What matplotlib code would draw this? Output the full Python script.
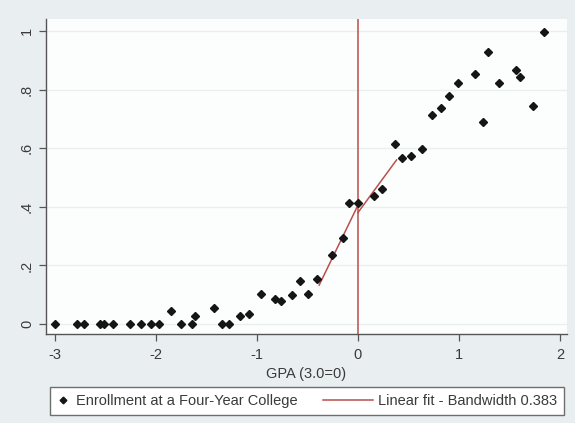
import numpy as np
import matplotlib
matplotlib.use("Agg")
import matplotlib.pyplot as plt
from matplotlib.lines import Line2D
from matplotlib.legend_handler import HandlerLine2D

# binned means
gpa = [-3.0, -2.78, -2.71, -2.55, -2.51, -2.42, -2.26, -2.15, -2.05, -1.97,
       -1.85, -1.75, -1.64, -1.61, -1.42, -1.34, -1.28, -1.17, -1.08, -0.96,
       -0.82, -0.76, -0.65, -0.57, -0.49, -0.40, -0.26, -0.15, -0.09, 0.0,
       0.155, 0.24, 0.37, 0.44, 0.53, 0.63, 0.73, 0.82, 0.905, 0.99,
       1.16, 1.24, 1.29, 1.40, 1.57, 1.60, 1.73, 1.84]
enroll = [0, 0, 0, 0, 0, 0, 0, 0, 0, 0,
          0.046, 0, 0, 0.026, 0.055, 0, 0, 0.028, 0.034, 0.101,
          0.085, 0.08, 0.10, 0.146, 0.104, 0.153, 0.234, 0.292, 0.413, 0.413,
          0.438, 0.462, 0.613, 0.568, 0.572, 0.596, 0.713, 0.736, 0.777, 0.823,
          0.853, 0.69, 0.927, 0.823, 0.868, 0.843, 0.743, 0.998]

# local linear fits on each side of the cutoff
fit_left_x = [-0.383, 0.0]
fit_left_y = [0.133, 0.405]
fit_right_x = [0.0, 0.383]
fit_right_y = [0.38, 0.56]

xticks = [-3, -2, -1, 0, 1, 2]
yticks = [0, 0.2, 0.4, 0.6, 0.8, 1.0]
ytick_labels = ["0", ".2", ".4", ".6", ".8", "1"]

RED = "#b9504b"
BG = "#e9eff1"
INK = "#3a3a3a"

plt.rcParams["font.family"] = ["Liberation Sans", "DejaVu Sans"]
plt.rcParams["axes.unicode_minus"] = False


class LongLine(HandlerLine2D):
    # line handle that reaches back into the column gap
    def get_xdata(self, legend, xdescent, ydescent, width, height, fontsize):
        xd = np.array([-xdescent + width - 36, -xdescent + width])
        return xd, xd


fig = plt.figure(figsize=(5.75, 4.23), dpi=100, facecolor=BG)
ax = fig.add_axes([45.7 / 575, 1 - 334.3 / 423, (567 - 45.7) / 575, (334.3 - 19.3) / 423])
ax.set_facecolor("#fcfdfd")

for yv in yticks:
    ax.axhline(yv, color="#e9eef0", lw=0.9, zorder=0)

ax.axvline(0, color=RED, lw=1.1, zorder=2)
ax.plot(fit_left_x, fit_left_y, color=RED, lw=1.1, zorder=2)
ax.plot(fit_right_x, fit_right_y, color=RED, lw=1.1, zorder=2)
ax.plot(gpa, enroll, linestyle="none", marker="D", markersize=4.0,
        color="#151515", zorder=3)

ax.set_xlim(-3.09, 2.07)
ax.set_ylim(-0.035, 1.04)
ax.set_xticks(xticks)
ax.set_yticks(yticks)
ax.set_yticklabels(ytick_labels, rotation=90, va="center")
ax.tick_params(axis="both", labelsize=10.5, colors="#555555", labelcolor=INK,
               length=5, width=0.9, direction="out")
ax.tick_params(axis="x", pad=5)
for side in ["top", "right"]:
    ax.spines[side].set_visible(False)
for side in ["left", "bottom"]:
    ax.spines[side].set_color("#555555")
    ax.spines[side].set_linewidth(1.0)

ax.set_xlabel("GPA (3.0=0)", fontsize=10.5, color=INK, labelpad=0)
ax.xaxis.set_label_coords(0.5, -0.105)

h1 = Line2D([], [], linestyle="none", marker="D", markersize=3.4, color="#151515")
h2 = Line2D([], [], color=RED, lw=1.1)
leg = fig.legend([h1, h2],
                 ["Enrollment at a Four-Year College", "Linear fit - Bandwidth 0.383"],
                 ncol=2, loc="center", bbox_to_anchor=(306.8 / 575, 1 - 401 / 423),
                 fontsize=10.5, frameon=True, fancybox=False, framealpha=1,
                 edgecolor="#6e6e6e", facecolor="white", handlelength=1.0,
                 handletextpad=0.35, columnspacing=4.2, borderpad=0.45,
                 handler_map={h2: LongLine()})
leg.get_frame().set_linewidth(1.0)
for t in leg.get_texts():
    t.set_color(INK)

fig.savefig("out.png", dpi=100, facecolor=BG)
